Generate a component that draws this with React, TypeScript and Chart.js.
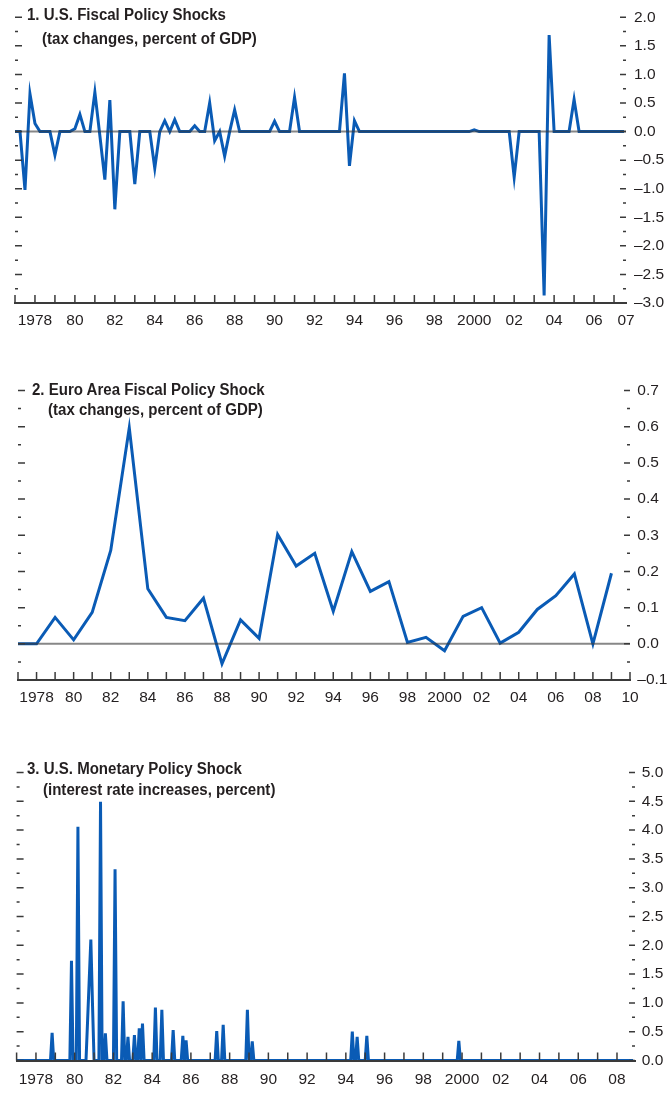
import React, { useEffect, useRef } from "react";
import { Chart, registerables } from "chart.js";

Chart.register(...registerables);

const FONT = "'Liberation Sans', Arial, sans-serif";
const INK = "#231f20";
const AXIS = "#3a3a3a";
const BLUE = "#0a5bb5";

// ---------- Panel 1: U.S. fiscal policy shocks (quarterly, 1977Q1-2007Q3) ----------
const usFiscalFirstQuarter = "1977Q1";
const usFiscalLastQuarter = "2007Q3";
// every quarter not listed here is 0.0
const usFiscalShockQuarters = [
  "1977Q3", "1977Q4", "1978Q1", "1979Q1", "1980Q1", "1980Q2", "1981Q1", "1981Q2",
  "1981Q3", "1981Q4", "1982Q1", "1983Q1", "1984Q1", "1984Q3", "1985Q1", "1986Q1",
  "1986Q4", "1987Q1", "1987Q3", "1988Q1", "1990Q1", "1991Q1", "1993Q3", "1993Q4",
  "1994Q1", "2000Q1", "2002Q1", "2003Q3", "2003Q4", "2005Q1",
];
const usFiscalShockValues = [
  -1.02, 0.66, 0.14, -0.41, 0.05, 0.3, 0.69, -0.07,
  -0.84, 0.55, -1.36, -0.92, -0.64, 0.19, 0.21, 0.1,
  0.5, -0.16, -0.43, 0.38, 0.18, 0.6, 1.02, -0.6,
  0.19, 0.03, -0.8, -2.87, 1.69, 0.56,
];
const usFiscalLabelYears = [1978, 1980, 1982, 1984, 1986, 1988, 1990, 1992, 1994, 1996, 1998, 2000, 2002, 2004, 2006];
const usFiscalEndLabel = "07";

// ---------- Panel 2: Euro area fiscal policy shock (annual) ----------
const euroYears = [
  1977, 1978, 1979, 1980, 1981, 1982, 1983, 1984, 1985, 1986, 1987, 1988, 1989, 1990, 1991, 1992, 1993,
  1994, 1995, 1996, 1997, 1998, 1999, 2000, 2001, 2002, 2003, 2004, 2005, 2006, 2007, 2008, 2009,
];
const euroValues = [
  0.0, 0.0, 0.073, 0.011, 0.087, 0.258, 0.597, 0.152, 0.073, 0.064, 0.126, -0.055, 0.066, 0.015, 0.302, 0.215, 0.25,
  0.09, 0.255, 0.145, 0.172, 0.004, 0.018, -0.019, 0.076, 0.1, 0.002, 0.032, 0.095, 0.133, 0.193, 0.0, 0.195,
];
const euroLabelYears = [1978, 1980, 1982, 1984, 1986, 1988, 1990, 1992, 1994, 1996, 1998, 2000, 2002, 2004, 2006, 2008, 2010];

// ---------- Panel 3: U.S. monetary policy shock (monthly, 1977-01 to 2008-11) ----------
const usMonetaryFirstMonth = "1977-01";
const usMonetaryLastMonth = "2008-11";
// every month not listed here is 0.0
const usMonetaryShockMonths = [
  "1978-11", "1979-11", "1980-03", "1980-09", "1980-10", "1980-11", "1980-12", "1981-05",
  "1981-08", "1982-02", "1982-07", "1982-10", "1983-02", "1983-05", "1983-07", "1984-03",
  "1984-07", "1985-02", "1985-08", "1985-10", "1987-05", "1987-09", "1988-12", "1989-03",
  "1994-05", "1994-08", "1995-02", "1999-11",
];
const usMonetaryShockValues = [
  0.48, 1.73, 4.06, 0.7, 1.4, 2.1, 1.0, 4.49,
  0.47, 3.32, 1.03, 0.41, 0.44, 0.56, 0.64, 0.92,
  0.88, 0.53, 0.43, 0.35, 0.51, 0.62, 0.88, 0.33,
  0.5, 0.41, 0.43, 0.34,
];
const usMonetaryLabelYears = [1978, 1980, 1982, 1984, 1986, 1988, 1990, 1992, 1994, 1996, 1998, 2000, 2002, 2004, 2006, 2008];

// ---------- helpers that build the tables ----------
const quarterIndex = (q: string) => {
  const [y, n] = q.split("Q");
  return Number(y) * 4 + Number(n) - 1;
};
const monthIndex = (m: string) => {
  const [y, n] = m.split("-");
  return Number(y) * 12 + Number(n) - 1;
};
function quarterlySeries(first: string, last: string, keys: string[], vals: number[]) {
  const lookup = new Map<number, number>();
  keys.forEach((k, i) => lookup.set(quarterIndex(k), vals[i]));
  const pts: { x: number; y: number }[] = [];
  for (let i = quarterIndex(first); i <= quarterIndex(last); i++) pts.push({ x: i / 4, y: lookup.get(i) ?? 0 });
  return pts;
}
function monthlySeries(first: string, last: string, keys: string[], vals: number[]) {
  const lookup = new Map<number, number>();
  keys.forEach((k, i) => lookup.set(monthIndex(k), vals[i]));
  const pts: { x: number; y: number }[] = [];
  for (let i = monthIndex(first); i <= monthIndex(last); i++) pts.push({ x: i / 12, y: lookup.get(i) ?? 0 });
  return pts;
}
const yearLabel = (y: number) => (y === 1978 || y === 2000 ? String(y) : String(y).slice(2));
const fmtY = (v: number) => {
  const s = Math.abs(v).toFixed(1);
  return v < -1e-9 ? "\u2013" + s : s;
};
const range = (a: number, b: number) => Array.from({ length: b - a + 1 }, (_, i) => a + i);

type Spec = {
  top: number;
  height: number;
  points: { x: number; y: number }[];
  xMin: number;
  xMax: number;
  yMin: number;
  yMax: number;
  yStep: number;
  tickYears: number[];
  labelYears: number[];
  endLabel?: string;
  padLeft: number;
  padTop: number;
  yAxisWidth: number;
  xAxisHeight: number;
  xLabelPad: number;
  yLabelPad: number;
  lineWidth: number;
  zeroLine: boolean;
  titles: string[];
  titleLeft: number[];
  titleTop: number[];
};

const panels: Spec[] = [
  {
    top: 0,
    height: 340,
    points: quarterlySeries(usFiscalFirstQuarter, usFiscalLastQuarter, usFiscalShockQuarters, usFiscalShockValues),
    xMin: 1977,
    xMax: 2007.6,
    yMin: -3,
    yMax: 2,
    yStep: 0.5,
    tickYears: range(1977, 2007),
    labelYears: usFiscalLabelYears,
    endLabel: usFiscalEndLabel,
    padLeft: 15,
    padTop: 15,
    yAxisWidth: 44,
    xAxisHeight: 37,
    xLabelPad: 8.7,
    yLabelPad: 8,
    lineWidth: 3,
    zeroLine: true,
    titles: ["1. U.S. Fiscal Policy Shocks", "(tax changes, percent of GDP)"],
    titleLeft: [27, 42],
    titleTop: [7.2, 30.9],
  },
  {
    top: 360,
    height: 360,
    points: euroYears.map((y, i) => ({ x: y, y: euroValues[i] })),
    xMin: 1977,
    xMax: 2010,
    yMin: -0.1,
    yMax: 0.7,
    yStep: 0.1,
    tickYears: range(1977, 2010),
    labelYears: euroLabelYears,
    padLeft: 18,
    padTop: 30.5,
    yAxisWidth: 40,
    xAxisHeight: 40,
    xLabelPad: 8.7,
    yLabelPad: 7.3,
    lineWidth: 3,
    zeroLine: true,
    titles: ["2. Euro Area Fiscal Policy Shock", "(tax changes, percent of GDP)"],
    titleLeft: [31.7, 48.3],
    titleTop: [381.5, 402.3],
  },
  {
    top: 740,
    height: 353,
    points: monthlySeries(usMonetaryFirstMonth, usMonetaryLastMonth, usMonetaryShockMonths, usMonetaryShockValues),
    xMin: 1977,
    xMax: 2008.93,
    yMin: 0,
    yMax: 5,
    yStep: 0.5,
    tickYears: range(1977, 2008),
    labelYears: usMonetaryLabelYears,
    padLeft: 16.6,
    padTop: 32.5,
    yAxisWidth: 35,
    xAxisHeight: 32.5,
    xLabelPad: 10,
    yLabelPad: 6.7,
    lineWidth: 3,
    zeroLine: false,
    titles: ["3. U.S. Monetary Policy Shock", "(interest rate increases, percent)"],
    titleLeft: [27.3, 43.3],
    titleTop: [760.5, 782.3],
  },
];

const marksPlugin = {
  id: "marks",
  afterDatasetsDraw(chart: any, _args: any, o: any) {
    const { ctx, chartArea: a } = chart;
    const xs = chart.scales.x;
    const ys = chart.scales.y;
    ctx.save();
    if (o.zeroLine) {
      const y0 = ys.getPixelForValue(0);
      ctx.strokeStyle = "rgba(55,55,55,0.6)";
      ctx.lineWidth = 2;
      ctx.beginPath();
      ctx.moveTo(a.left, y0);
      ctx.lineTo(a.right, y0);
      ctx.stroke();
    }
    ctx.strokeStyle = AXIS;
    ctx.lineWidth = 1.5;
    const minor = o.yStep / 2;
    const n = Math.round((ys.max - ys.min) / minor);
    for (let i = 0; i <= n; i++) {
      const v = ys.min + i * minor;
      const py = ys.getPixelForValue(v);
      const major = i % 2 === 0;
      ctx.beginPath();
      ctx.moveTo(a.left, py);
      ctx.lineTo(a.left + (major ? 7 : 3), py);
      ctx.moveTo(a.right - (major ? 6 : 3), py);
      ctx.lineTo(a.right, py);
      ctx.stroke();
    }
    for (const yr of o.tickYears) {
      const px = xs.getPixelForValue(yr);
      ctx.beginPath();
      ctx.moveTo(px, a.bottom);
      ctx.lineTo(px, a.bottom - 8);
      ctx.stroke();
    }
    ctx.restore();
  },
};

function buildConfig(spec: Spec): any {
  const tickFont = { family: FONT, size: 15.5, lineHeight: 1.2 };
  return {
    type: "line",
    data: {
      datasets: [
        {
          data: spec.points,
          borderColor: BLUE,
          borderWidth: spec.lineWidth,
          pointRadius: 0,
          tension: 0,
          fill: false,
        },
      ],
    },
    options: {
      animation: false,
      responsive: false,
      maintainAspectRatio: false,
      events: [],
      layout: { padding: { left: spec.padLeft, top: spec.padTop, right: 0, bottom: 0 } },
      plugins: {
        legend: { display: false },
        tooltip: { enabled: false },
        marks: { zeroLine: spec.zeroLine, yStep: spec.yStep, tickYears: spec.tickYears },
      },
      scales: {
        x: {
          type: "linear",
          min: spec.xMin,
          max: spec.xMax,
          afterBuildTicks: (s: any) => {
            const t = spec.labelYears.map((v) => ({ value: v }));
            if (spec.endLabel) t.push({ value: spec.xMax });
            s.ticks = t;
          },
          afterFit: (s: any) => {
            s.height = spec.xAxisHeight;
          },
          ticks: {
            autoSkip: false,
            maxRotation: 0,
            minRotation: 0,
            padding: spec.xLabelPad,
            color: INK,
            font: tickFont,
            callback: (v: number) => (spec.endLabel && Math.abs(v - spec.xMax) < 1e-6 ? spec.endLabel : yearLabel(v)),
          },
          grid: { display: false, drawTicks: false },
          border: { display: true, color: AXIS, width: 2, z: 1 },
        },
        y: {
          type: "linear",
          position: "right",
          min: spec.yMin,
          max: spec.yMax,
          afterFit: (s: any) => {
            s.width = spec.yAxisWidth;
          },
          ticks: {
            stepSize: spec.yStep,
            autoSkip: false,
            padding: spec.yLabelPad,
            color: INK,
            font: tickFont,
            callback: (v: number) => fmtY(v),
          },
          grid: { display: false, drawTicks: false },
          border: { display: false },
        },
      },
    },
    plugins: [marksPlugin],
  };
}

function Panel({ spec }: { spec: Spec }) {
  const ref = useRef<HTMLCanvasElement>(null);
  useEffect(() => {
    const chart = new Chart(ref.current as HTMLCanvasElement, buildConfig(spec));
    return () => chart.destroy();
  }, [spec]);
  return (
    <>
      <canvas
        ref={ref}
        width={670}
        height={spec.height}
        style={{ position: "absolute", left: 0, top: spec.top, width: 670, height: spec.height }}
      />
      {spec.titles.map((t, i) => (
        <div
          key={i}
          style={{
            position: "absolute",
            left: spec.titleLeft[i],
            top: spec.titleTop[i],
            fontFamily: FONT,
            fontWeight: "bold",
            fontSize: 16,
            lineHeight: "16px",
            color: INK,
            whiteSpace: "nowrap",
            transform: "scaleX(0.94)",
            transformOrigin: "0 0",
          }}
        >
          {t}
        </div>
      ))}
    </>
  );
}

export default function App() {
  return (
    <div
      style={{
        position: "absolute",
        left: 0,
        top: 0,
        width: 670,
        height: 1093,
        overflow: "hidden",
        background: "#ffffff",
      }}
    >
      {panels.map((p, i) => (
        <Panel key={i} spec={p} />
      ))}
    </div>
  );
}
